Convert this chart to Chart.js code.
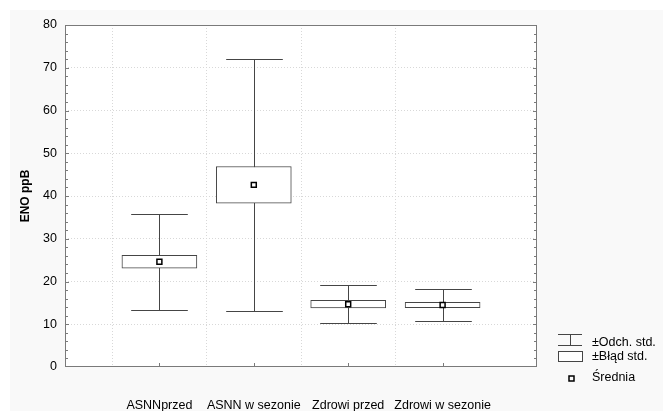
<!DOCTYPE html>
<html>
<head>
<meta charset="utf-8">
<script src="https://cdn.jsdelivr.net/npm/chart.js@4"></script>
<style>
  html, body { margin: 0; padding: 0; background: #ffffff; }
  #wrap { width: 663px; height: 411px; }
</style>
</head>
<body>
<div id="wrap"><canvas id="chart" width="663" height="411"></canvas></div>
<script>
// groups on the x axis
const categories = ["ASNNprzed", "ASNN w sezonie", "Zdrowi przed", "Zdrowi w sezonie"];
// mean
const means = [24.6, 42.6, 14.7, 14.5];
// mean ± standard error (box)
const seLow = [23.1, 38.3, 13.8, 13.9];
const seHigh = [26.1, 46.9, 15.6, 15.1];
// mean ± standard deviation (whiskers)
const sdLow = [13.3, 13.0, 10.2, 10.7];
const sdHigh = [35.7, 72.0, 19.1, 18.2];
const yTicks = [0, 10, 20, 30, 40, 50, 60, 70, 80];

const FONT = "'Liberation Sans', Arial, sans-serif";
const LINE = "#454545";

// background panel + white plot area
const backgroundPlugin = {
  id: "bg",
  beforeDraw(chart) {
    const { ctx, chartArea: a } = chart;
    ctx.save();
    ctx.fillStyle = "#ffffff";
    ctx.fillRect(0, 0, chart.width, chart.height);
    ctx.fillStyle = "#f9f9f9";
    ctx.fillRect(10, 10, chart.width - 10, chart.height - 10);
    ctx.fillStyle = "#ffffff";
    ctx.fillRect(a.left, a.top, a.right - a.left, a.bottom - a.top);
    ctx.restore();
  },
};

// ± std. dev. whiskers, drawn under the boxes
const whiskerPlugin = {
  id: "whiskers",
  beforeDatasetsDraw(chart) {
    const { ctx } = chart;
    const xs = chart.scales.x, ys = chart.scales.y;
    const cap = xs.getPixelForValue(1.3) - xs.getPixelForValue(1);
    ctx.save();
    ctx.strokeStyle = LINE;
    ctx.lineWidth = 1;
    categories.forEach((c, i) => {
      const x = Math.round(xs.getPixelForValue(i + 1)) + 0.5;
      const yl = Math.round(ys.getPixelForValue(sdLow[i])) + 0.5;
      const yh = Math.round(ys.getPixelForValue(sdHigh[i])) + 0.5;
      ctx.beginPath();
      ctx.moveTo(x, yl); ctx.lineTo(x, yh);
      ctx.moveTo(x - cap, yl); ctx.lineTo(x + cap, yl);
      ctx.moveTo(x - cap, yh); ctx.lineTo(x + cap, yh);
      ctx.stroke();
    });
    ctx.restore();
  },
};

// frame, inward ticks and the legend
const framePlugin = {
  id: "frame",
  afterDraw(chart) {
    const { ctx, chartArea: a } = chart;
    const xs = chart.scales.x, ys = chart.scales.y;
    ctx.save();
    ctx.strokeStyle = "#7a7a7a";
    ctx.lineWidth = 1;
    ctx.strokeRect(a.left + 0.5, a.top + 0.5, a.right - a.left - 1, a.bottom - a.top - 1);
    ctx.beginPath();
    for (let v = 2; v < 80; v += 2) {
      const y = Math.round(ys.getPixelForValue(v)) + 0.5;
      const len = v % 10 === 0 ? 4 : 3;
      ctx.moveTo(a.left, y); ctx.lineTo(a.left + len, y);
      ctx.moveTo(a.right, y); ctx.lineTo(a.right - len, y);
    }
    categories.forEach((c, i) => {
      const x = Math.round(xs.getPixelForValue(i + 1)) + 0.5;
      ctx.moveTo(x, a.bottom); ctx.lineTo(x, a.bottom - 4);
    });
    ctx.stroke();

    // legend
    ctx.strokeStyle = LINE;
    ctx.beginPath();
    ctx.moveTo(558, 334.5); ctx.lineTo(582, 334.5);
    ctx.moveTo(570.5, 334.5); ctx.lineTo(570.5, 345.5);
    ctx.moveTo(558, 345.5); ctx.lineTo(582, 345.5);
    ctx.stroke();
    ctx.fillStyle = "#ffffff";
    ctx.fillRect(558.5, 351.5, 24, 10);
    ctx.strokeRect(558.5, 351.5, 24, 10);
    ctx.strokeStyle = "#000000";
    ctx.lineWidth = 1.5;
    ctx.strokeRect(569, 376, 5, 5);
    ctx.fillStyle = "#000000";
    ctx.font = "12.5px " + FONT;
    ctx.textBaseline = "middle";
    ctx.textAlign = "left";
    ctx.fillText("±Odch. std.", 592, 343);
    ctx.fillText("±Błąd std.", 592, 357);
    ctx.fillText("Średnia", 592, 378);
    ctx.restore();
  },
};

const gridColor = (ctx) => {
  const v = ctx.tick ? ctx.tick.value : 0;
  return (v === 0 || v === 80 || v === 5) ? "rgba(0,0,0,0)" : "#d8d8d8";
};

new Chart(document.getElementById("chart"), {
  type: "bar",
  data: {
    datasets: [
      {
        label: "±Błąd std.",
        data: categories.map((c, i) => ({ x: i + 1, y: [seLow[i], seHigh[i]] })),
        backgroundColor: "#ffffff",
        borderColor: LINE,
        borderWidth: 1,
        borderSkipped: false,
        barThickness: 75,
        order: 2,
      },
      {
        type: "scatter",
        label: "Średnia",
        data: categories.map((c, i) => ({ x: i + 1, y: means[i] })),
        pointStyle: "rect",
        pointRadius: 3.5,
        pointHoverRadius: 3.5,
        borderColor: "#000000",
        backgroundColor: "#ffffff",
        borderWidth: 1.5,
        order: 1,
      },
    ],
  },
  options: {
    responsive: false,
    animation: false,
    events: [],
    layout: { padding: { left: 0, top: 25, right: 126, bottom: 0 } },
    plugins: { legend: { display: false }, tooltip: { enabled: false } },
    scales: {
      x: {
        type: "linear",
        min: 0,
        max: 5,
        offset: false,
        grid: { color: gridColor, drawTicks: false },
        border: { display: false, dash: [1, 2] },
        ticks: {
          stepSize: 1,
          autoSkip: false,
          maxRotation: 0,
          padding: 31,
          color: "#000000",
          font: { family: FONT, size: 12.5 },
          callback: (v) => categories[v - 1] || "",
        },
        afterFit(scale) { scale.height = 44; },
      },
      y: {
        min: 0,
        max: 80,
        afterBuildTicks(scale) { scale.ticks = yTicks.map((v) => ({ value: v })); },
        grid: { color: gridColor, drawTicks: false },
        border: { display: false, dash: [1, 2] },
        ticks: {
          padding: 8,
          color: "#000000",
          font: { family: FONT, size: 12.5 },
        },
        title: {
          display: true,
          text: "ENO ppB",
          color: "#000000",
          font: { family: FONT, size: 12, weight: "bold" },
          padding: { top: 18, bottom: 0 },
        },
        afterFit(scale) { scale.width = 65; },
      },
    },
  },
  plugins: [backgroundPlugin, whiskerPlugin, framePlugin],
});
</script>
</body>
</html>
